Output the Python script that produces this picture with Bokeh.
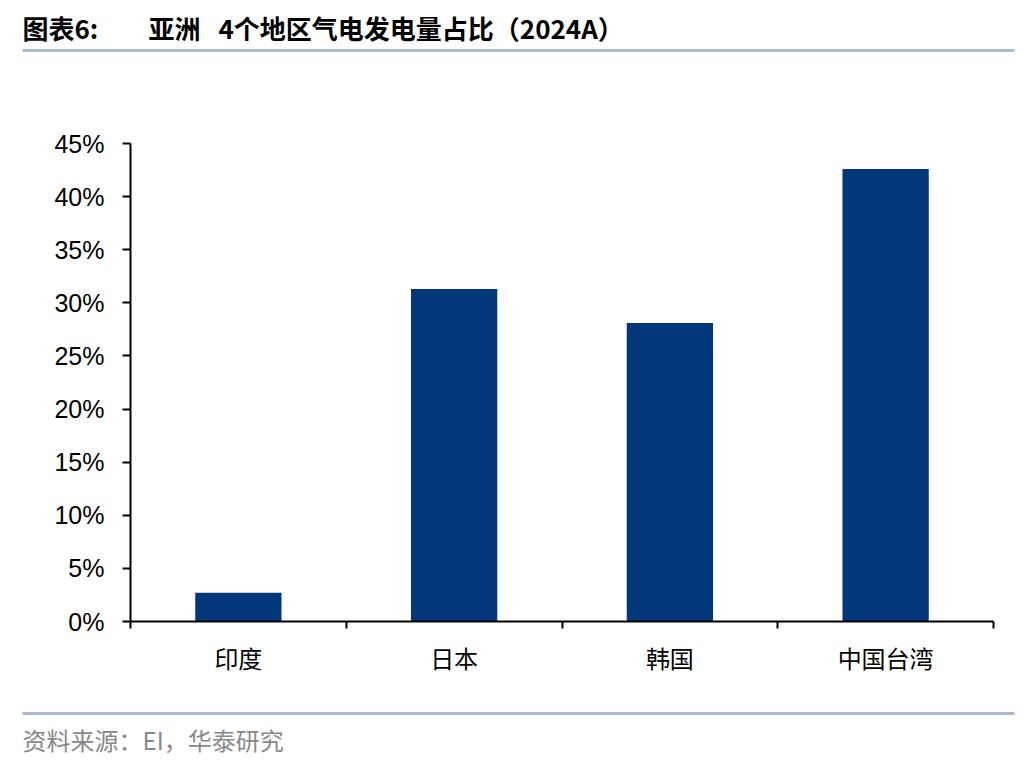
import numpy as np
from bokeh.plotting import figure
from bokeh.models import Range1d, FixedTicker, SingleIntervalTicker, PrintfTickFormatter
from bokeh.core.properties import value
from bokeh.embed import file_html
from bokeh.resources import INLINE

# ---- data ----
categories = ["印度", "日本", "韩国", "中国台湾"]
share_pct = [2.7, 31.3, 28.1, 42.6]
y_max = 45
y_step = 5
title_text = "图表6:  亚洲 4个地区气电发电量占比（2024A）"
source_text = "资料来源：EI，华泰研究"

W = 1020
BAR_COLOR = "#02387A"
RULE_COLOR = "#A7BBD1"
CJK = "Noto Sans CJK SC"


def blank(h):
    f = figure(width=W, height=h, output_backend="svg", toolbar_location=None,
               x_range=Range1d(0, W), y_range=Range1d(h, 0),
               min_border=0, x_axis_location=None, y_axis_location=None)
    f.grid.visible = False
    f.outline_line_color = None
    return f


# ---- top strip: title + rule (page y 0-60) ----
top = blank(60)
title_parts = title_text.split()
title_x = [22, 148, 218]  # wide gaps between the title's words, as in the original
top.text(x=title_x, y=[27] * len(title_parts), text=title_parts, text_font=value(CJK),
         text_font_style="bold", text_font_size="26px", text_color="#000000",
         text_baseline="middle", text_align="left")
top.segment(x0=[22], y0=[50], x1=[1014], y1=[50], line_color=RULE_COLOR, line_width=3)

# ---- main chart (page y 60-687) ----
n = len(categories)
xs = np.arange(n) + 0.5
p = figure(width=W, height=627, output_backend="svg", toolbar_location=None,
           x_range=Range1d(0, n), y_range=Range1d(0, y_max),
           min_border_left=130, min_border_right=W - 993,
           min_border_top=83, min_border_bottom=66)
p.grid.visible = False
p.outline_line_color = None
p.vbar(x=xs, top=share_pct, width=0.4, color=BAR_COLOR, line_color=None)

ya = p.yaxis[0]
ya.ticker = SingleIntervalTicker(interval=y_step)
ya.formatter = PrintfTickFormatter(format="%d%%")
ya.axis_line_width = 2
ya.axis_line_color = "#000000"
ya.major_tick_line_width = 2
ya.major_tick_line_color = "#000000"
ya.major_tick_out = 8
ya.major_tick_in = 0
ya.minor_tick_line_color = None
ya.major_label_text_font = "Liberation Sans"
ya.major_label_text_font_size = "25px"
ya.major_label_text_color = "#000000"
ya.major_label_standoff = 18

xa = p.xaxis[0]
xa.ticker = FixedTicker(ticks=list(xs), minor_ticks=list(range(n + 1)))
xa.major_label_overrides = {float(x): c for x, c in zip(xs, categories)}
xa.axis_line_width = 2
xa.axis_line_color = "#000000"
xa.major_tick_out = 0
xa.major_tick_in = 0
xa.major_tick_line_color = None
xa.minor_tick_out = 7
xa.minor_tick_in = 0
xa.minor_tick_line_width = 2
xa.minor_tick_line_color = "#000000"
xa.major_label_text_font = CJK
xa.major_label_text_font_size = "24px"
xa.major_label_text_color = "#000000"
xa.major_label_standoff = 11

# ---- bottom strip: rule + source (page y 687-757) ----
bot = blank(70)
bot.segment(x0=[22], y0=[26], x1=[1014], y1=[26], line_color=RULE_COLOR, line_width=3)
bot.text(x=[22], y=[52], text=[source_text], text_font=value(CJK),
         text_font_size="24px", text_color="#888888", text_baseline="middle", text_align="left")

open("out.html", "w").write(file_html([top, p, bot], INLINE))
